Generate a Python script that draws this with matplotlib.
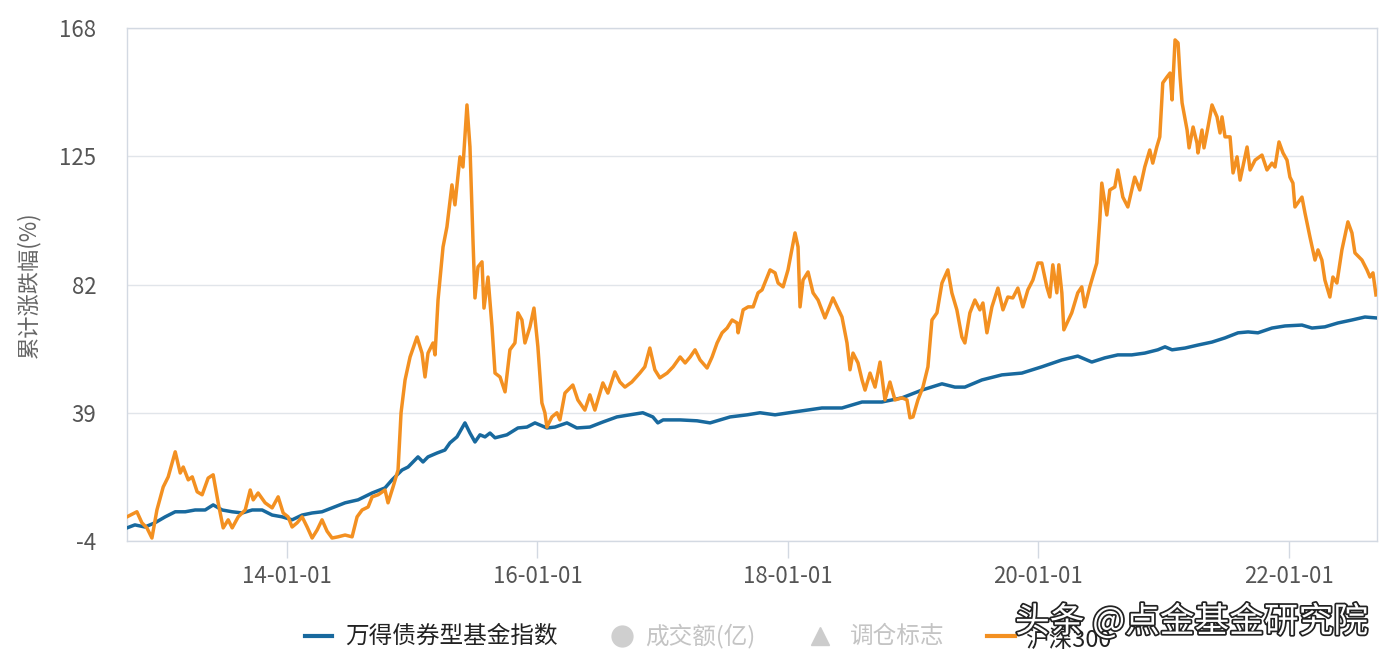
import matplotlib
matplotlib.use("Agg")
import matplotlib.pyplot as plt
import matplotlib.dates as mdates
from matplotlib.lines import Line2D
import matplotlib.patheffects as pe
import pandas as pd

plt.rcParams['font.family'] = ['Noto Sans CJK SC', 'DejaVu Sans']

# ---- data (decimal years, cumulative change %) ----
bond_t = [2012.723, 2012.786, 2012.866, 2012.946, 2013.026, 2013.106, 2013.186, 2013.265,
          2013.345, 2013.409, 2013.481, 2013.561, 2013.641, 2013.721, 2013.800, 2013.880,
          2013.960, 2014.040, 2014.120, 2014.200, 2014.279, 2014.359, 2014.463, 2014.567,
          2014.679, 2014.782, 2014.838, 2014.918, 2014.966, 2015.046, 2015.086, 2015.126,
          2015.198, 2015.261, 2015.301, 2015.357, 2015.421, 2015.461, 2015.501, 2015.541,
          2015.581, 2015.621, 2015.661, 2015.756, 2015.844, 2015.916, 2015.980, 2016.076,
          2016.140, 2016.236, 2016.315, 2016.419, 2016.523, 2016.635, 2016.738, 2016.842,
          2016.922, 2016.962, 2017.002, 2017.138, 2017.273, 2017.377, 2017.457, 2017.537,
          2017.673, 2017.776, 2017.896, 2018.056, 2018.271, 2018.431, 2018.591, 2018.750,
          2018.910, 2019.070, 2019.230, 2019.333, 2019.413, 2019.549, 2019.709, 2019.868,
          2020.028, 2020.188, 2020.315, 2020.427, 2020.531, 2020.635, 2020.746, 2020.850,
          2020.954, 2021.010, 2021.066, 2021.170, 2021.273, 2021.385, 2021.489, 2021.593,
          2021.673, 2021.752, 2021.864, 2021.968, 2022.104, 2022.184, 2022.287, 2022.391,
          2022.503, 2022.607, 2022.695]
bond_v = [0.4, 1.4, 0.7, 2.1, 4.1, 5.8, 5.8, 6.4,
          6.4, 8.1, 6.4, 5.8, 5.4, 6.4, 6.4, 4.7,
          4.1, 3.1, 4.7, 5.4, 5.8, 7.1, 8.8, 9.8,
          12.1, 13.8, 16.5, 19.8, 20.8, 24.2, 22.5, 24.2,
          25.5, 26.5, 28.9, 30.9, 35.6, 32.2, 29.2, 31.6,
          30.9, 32.2, 30.6, 31.6, 33.9, 34.2, 35.6, 33.9,
          34.2, 35.6, 33.9, 34.2, 35.9, 37.6, 38.3, 39.0,
          37.6, 35.6, 36.6, 36.6, 36.3, 35.6, 36.6, 37.6,
          38.3, 39.0, 38.3, 39.3, 40.6, 40.6, 42.6, 42.6,
          44.0, 46.6, 48.7, 47.6, 47.6, 50.0, 51.7, 52.3,
          54.4, 56.7, 58.0, 56.0, 57.4, 58.4, 58.4, 59.0,
          60.1, 61.1, 60.1, 60.7, 61.7, 62.7, 64.1, 65.8,
          66.1, 65.8, 67.4, 68.1, 68.4, 67.4, 67.8, 69.1,
          70.1, 71.1, 70.8]

hs_t = [2012.723, 2012.802, 2012.842, 2012.882, 2012.922, 2012.962, 2013.010, 2013.050,
        2013.106, 2013.146, 2013.170, 2013.210, 2013.242, 2013.281, 2013.321, 2013.369,
        2013.409, 2013.449, 2013.489, 2013.529, 2013.561, 2013.609, 2013.665, 2013.705,
        2013.729, 2013.768, 2013.824, 2013.880, 2013.928, 2013.968, 2014.008, 2014.040,
        2014.080, 2014.120, 2014.160, 2014.200, 2014.240, 2014.279, 2014.319, 2014.359,
        2014.407, 2014.463, 2014.519, 2014.559, 2014.599, 2014.647, 2014.679, 2014.727,
        2014.782, 2014.806, 2014.846, 2014.886, 2014.910, 2014.942, 2014.982, 2015.038,
        2015.078, 2015.102, 2015.126, 2015.166, 2015.182, 2015.206, 2015.246, 2015.277,
        2015.317, 2015.341, 2015.381, 2015.405, 2015.437, 2015.461, 2015.485, 2015.501,
        2015.525, 2015.557, 2015.573, 2015.605, 2015.637, 2015.661, 2015.701, 2015.741,
        2015.780, 2015.820, 2015.844, 2015.876, 2015.900, 2015.940, 2015.972, 2016.004,
        2016.036, 2016.060, 2016.076, 2016.116, 2016.156, 2016.180, 2016.220, 2016.283,
        2016.323, 2016.379, 2016.419, 2016.459, 2016.523, 2016.563, 2016.619, 2016.659,
        2016.699, 2016.754, 2016.818, 2016.858, 2016.898, 2016.938, 2016.978, 2017.034,
        2017.082, 2017.138, 2017.178, 2017.218, 2017.257, 2017.297, 2017.353, 2017.393,
        2017.433, 2017.473, 2017.513, 2017.553, 2017.593, 2017.601, 2017.641, 2017.681,
        2017.721, 2017.760, 2017.792, 2017.856, 2017.896, 2017.920, 2017.960, 2018.000,
        2018.056, 2018.080, 2018.096, 2018.120, 2018.160, 2018.200, 2018.240, 2018.295,
        2018.359, 2018.431, 2018.471, 2018.495, 2018.519, 2018.559, 2018.591, 2018.615,
        2018.655, 2018.695, 2018.735, 2018.774, 2018.814, 2018.854, 2018.910, 2018.950,
        2018.974, 2018.998, 2019.038, 2019.078, 2019.118, 2019.150, 2019.190, 2019.230,
        2019.277, 2019.309, 2019.349, 2019.389, 2019.413, 2019.453, 2019.493, 2019.533,
        2019.557, 2019.589, 2019.629, 2019.677, 2019.717, 2019.756, 2019.796, 2019.836,
        2019.876, 2019.916, 2019.956, 2019.996, 2020.028, 2020.068, 2020.092, 2020.116,
        2020.148, 2020.164, 2020.188, 2020.204, 2020.267, 2020.315, 2020.347, 2020.371,
        2020.411, 2020.467, 2020.491, 2020.507, 2020.547, 2020.571, 2020.611, 2020.635,
        2020.675, 2020.715, 2020.770, 2020.810, 2020.850, 2020.890, 2020.914, 2020.946,
        2020.970, 2020.994, 2021.026, 2021.050, 2021.066, 2021.090, 2021.114, 2021.130,
        2021.146, 2021.186, 2021.202, 2021.234, 2021.265, 2021.273, 2021.305, 2021.321,
        2021.353, 2021.385, 2021.425, 2021.449, 2021.465, 2021.489, 2021.529, 2021.553,
        2021.585, 2021.609, 2021.665, 2021.689, 2021.729, 2021.784, 2021.824, 2021.864,
        2021.888, 2021.920, 2021.952, 2021.984, 2022.008, 2022.032, 2022.048, 2022.104,
        2022.128, 2022.168, 2022.208, 2022.232, 2022.263, 2022.287, 2022.327, 2022.351,
        2022.383, 2022.423, 2022.471, 2022.503, 2022.527, 2022.583, 2022.623, 2022.647,
        2022.671, 2022.695]
hs_v = [4.1, 5.8, 2.1, 0.4, -3.0, 6.4, 14.1, 17.5,
        25.9, 18.8, 20.8, 16.5, 17.5, 12.5, 11.5, 17.1,
        18.2, 8.8, 0.4, 3.1, 0.4, 4.1, 6.4, 13.1,
        9.8, 12.1, 8.8, 7.1, 10.8, 5.4, 4.1, 0.7,
        2.1, 4.1, 0.7, -3.0, -0.3, 3.1, -0.7, -3.0,
        -2.6, -2.0, -2.6, 4.1, 6.4, 7.4, 10.8, 11.5,
        13.1, 8.8, 14.1, 19.8, 39.0, 50.0, 57.7, 64.4,
        59.0, 51.0, 59.0, 62.4, 58.4, 76.8, 94.6, 101.3,
        115.4, 108.7, 124.8, 121.4, 142.2, 128.1, 96.9, 77.5,
        87.9, 89.6, 74.1, 84.5, 67.8, 52.3, 51.0, 46.0,
        60.1, 62.4, 72.5, 70.1, 62.4, 67.8, 74.1, 61.1,
        42.3, 39.0, 34.2, 37.6, 39.0, 36.6, 45.6, 48.3,
        43.3, 39.9, 45.0, 39.9, 49.0, 45.6, 52.7, 49.3,
        47.6, 49.3, 52.3, 54.4, 60.7, 53.4, 50.7, 52.3,
        54.4, 57.7, 55.7, 57.7, 60.1, 56.7, 54.0, 57.7,
        62.4, 65.8, 67.4, 70.1, 69.1, 65.8, 73.5, 74.5,
        74.5, 79.2, 80.2, 86.9, 85.9, 82.5, 81.2, 86.9,
        99.3, 94.6, 74.5, 83.5, 86.2, 79.2, 76.8, 70.8,
        77.5, 71.1, 62.4, 53.4, 59.0, 55.7, 50.0, 46.6,
        52.3, 47.6, 56.0, 43.3, 49.3, 43.3, 44.0, 43.3,
        37.3, 37.6, 43.3, 47.6, 54.4, 70.1, 72.5, 82.5,
        86.9, 79.2, 73.5, 64.4, 62.4, 72.5, 76.8, 73.5,
        75.8, 65.8, 74.5, 80.8, 73.5, 77.8, 77.5, 80.8,
        74.5, 80.2, 83.5, 89.2, 89.2, 81.2, 77.8, 88.6,
        79.2, 88.6, 79.2, 66.8, 72.5, 79.2, 81.2, 74.5,
        81.2, 89.2, 103.6, 116.0, 105.3, 113.7, 114.7, 120.4,
        111.3, 108.0, 118.0, 113.7, 121.4, 127.1, 122.7, 128.1,
        131.5, 149.6, 151.6, 152.9, 143.9, 164.0, 163.0, 151.6,
        142.9, 133.8, 127.8, 134.8, 129.4, 126.1, 133.8, 127.8,
        134.8, 142.2, 138.2, 132.8, 138.2, 131.5, 131.5, 119.4,
        124.8, 117.0, 128.1, 120.4, 123.7, 125.4, 120.4, 122.7,
        121.4, 129.8, 126.1, 123.7, 118.0, 116.0, 108.0, 111.3,
        106.0, 97.9, 90.2, 93.6, 90.2, 83.5, 77.8, 84.5,
        82.5, 93.6, 103.0, 99.3, 92.6, 90.2, 86.9, 84.5,
        85.9, 78.5]

y_ticks = [-4, 39, 82, 125, 168]
x_ticks = ["2014-01-01", "2016-01-01", "2018-01-01", "2020-01-01", "2022-01-01"]
bond_name = "万得债券型基金指数"
hs_name = "沪深300"
y_label = "累计涨跌幅(%)"


def to_dates(ts):
    out = []
    for t in ts:
        y = int(t)
        out.append(pd.Timestamp(f"{y}-01-01") + pd.Timedelta(days=(t - y) * 365.25))
    return out


bond_d = to_dates(bond_t)
hs_d = to_dates(hs_t)

BLUE = '#18699e'
ORANGE = '#f39021'
SPINE = '#d3d9e2'

fig = plt.figure(figsize=(13.94, 6.6), dpi=100)
fig.patch.set_facecolor('white')
ax = fig.add_axes([127 / 1394, 1 - 541 / 660, 1250 / 1394, 513 / 660])

ax.plot(bond_d, bond_v, color=BLUE, lw=2.5, solid_joinstyle='round', zorder=3)
ax.plot(hs_d, hs_v, color=ORANGE, lw=2.5, solid_joinstyle='round', zorder=4)

ax.set_xlim(bond_d[0], bond_d[-1] + pd.Timedelta(days=3))
ax.set_ylim(-4, 168)
ax.set_yticks(y_ticks)
ax.set_yticklabels([str(v) for v in y_ticks])
ax.set_xticks([pd.Timestamp(s) for s in x_ticks])
ax.xaxis.set_major_formatter(mdates.DateFormatter('%y-%m-%d'))

ax.grid(axis='y', color='#e1e5ea', lw=1.0)
ax.set_axisbelow(True)
for s in ax.spines.values():
    s.set_color(SPINE)
    s.set_linewidth(1.0)

ax.tick_params(axis='y', length=0, pad=22, labelsize=16, labelcolor='#555555')
ax.tick_params(axis='x', length=12, width=1, color=SPINE, pad=5,
               labelsize=16, labelcolor='#555555')
ax.set_ylabel(y_label, fontsize=16, color='#666666')
ax.yaxis.set_label_coords(-0.069, 0.5)

# ---- legend (bottom) ----
ly = 1 - 636 / 660
fig.add_artist(Line2D([305 / 1394, 332 / 1394], [ly, ly], color=BLUE, lw=3,
                      transform=fig.transFigure))
fig.text(345 / 1394, ly, bond_name, fontsize=17, color='#222222', va='center',
         ha='left', weight='medium')
fig.add_artist(Line2D([622 / 1394], [ly], marker='o', markersize=15, color='#cfcfcf',
                      lw=0, transform=fig.transFigure))
fig.text(645 / 1394, ly, "成交额(亿)", fontsize=17, color='#c4c4c4', va='center', ha='left')
fig.add_artist(Line2D([820 / 1394], [ly], marker='^', markersize=13, color='#cccccc',
                      lw=0, transform=fig.transFigure))
fig.text(850 / 1394, ly, "调仓标志", fontsize=17, color='#c4c4c4', va='center', ha='left')
fig.add_artist(Line2D([987 / 1394, 1015 / 1394], [ly, ly], color=ORANGE, lw=3,
                      transform=fig.transFigure))
fig.text(1025 / 1394, 1 - 640 / 660, hs_name, fontsize=17, color='#222222', va='center',
         ha='left', weight='medium')

# watermark
fig.text(1015 / 1394, 1 - 622 / 660, "头条 @点金基金研究院", fontsize=25, color='white',
         va='center', ha='left',
         path_effects=[pe.withStroke(linewidth=2.5, foreground='#222222')])

fig.savefig("out.png", dpi=100)
